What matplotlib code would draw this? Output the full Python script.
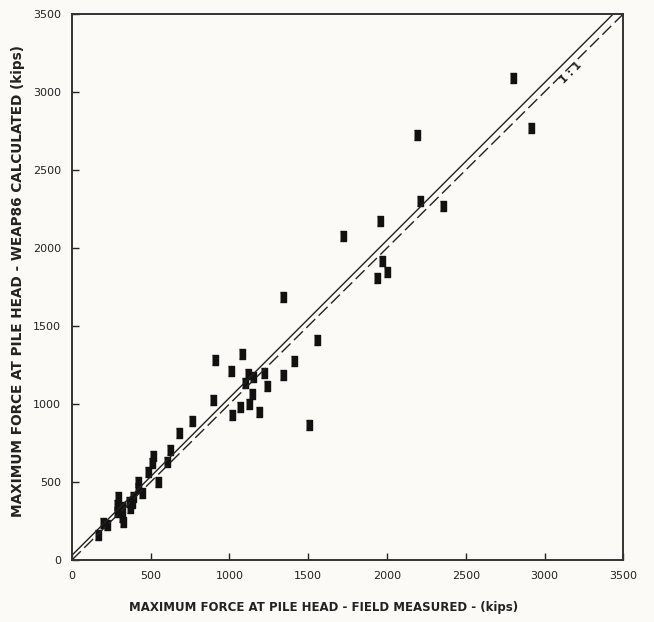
import matplotlib.pyplot as plt

# field measured vs WEAP86 calculated max force (kips)
measured = [2802, 2916, 2192, 2211, 2357, 1957, 1722, 1970, 2001, 1938,
            1341, 1557, 1410, 1341, 1506, 909, 1080, 1010, 1118, 1150,
            1099, 1220, 1239, 1144, 896, 1067, 1125, 1017, 1188, 762,
            680, 623, 515, 604, 508, 483, 546, 419, 419, 445,
            388, 362, 292, 286, 286, 318, 318, 324, 368, 381,
            222, 197, 165]
calculated = [3089, 2768, 2723, 2299, 2267, 2171, 2075, 1914, 1843, 1805,
              1683, 1413, 1278, 1188, 867, 1285, 1323, 1214, 1195, 1175,
              1137, 1201, 1118, 1066, 1028, 983, 1002, 931, 951, 893,
              816, 706, 668, 629, 623, 565, 501, 501, 462, 430,
              405, 373, 405, 353, 308, 340, 276, 244, 334, 366,
              225, 238, 161]

# best fit line and 1:1 line
fit_x = [0, 3436]
fit_y = [30, 3500]
one_x = [0, 3500]
one_y = [0, 3500]

ticks = [0, 500, 1000, 1500, 2000, 2500, 3000, 3500]

bg = '#fbfaf6'
ink = '#222222'

fig = plt.figure(figsize=(6.54, 6.22), dpi=100, facecolor=bg)
ax = fig.add_axes([0.110, 0.0997, 0.843, 0.8778], facecolor=bg)

rect = [(-0.33, -0.5), (0.33, -0.5), (0.33, 0.5), (-0.33, 0.5)]
ax.plot(measured, calculated, linestyle='none', marker=rect, markersize=6.5,
        color='#111111')
ax.plot(fit_x, fit_y, color=ink, linewidth=1.0)
ax.plot(one_x, one_y, color=ink, linewidth=1.0, dashes=(9, 3.5))

ax.text(3170, 3125, '1 : 1', rotation=45, fontsize=7.5, fontweight='bold',
        color=ink, ha='center', va='center')

ax.set_xlim(0, 3500)
ax.set_ylim(0, 3500)
ax.set_xticks(ticks)
ax.set_yticks(ticks)

for lab in ax.get_xticklabels() + ax.get_yticklabels():
    lab.set_fontsize(8)
    lab.set_color(ink)
ax.tick_params(direction='in', length=5, width=1, color=ink, pad=8)

for sp in ax.spines.values():
    sp.set_linewidth(1.4)
    sp.set_color('#333333')

ax.set_xlabel('MAXIMUM FORCE AT PILE HEAD - FIELD MEASURED - (kips)',
              fontsize=8.5, fontweight='bold', color=ink)
ax.xaxis.set_label_coords(0.456, -0.076)
ax.set_ylabel('MAXIMUM FORCE AT PILE HEAD - WEAP86 CALCULATED (kips)',
              fontsize=9.8, fontweight='bold', color=ink)
ax.yaxis.set_label_coords(-0.086, 0.51)

fig.savefig('out.png', dpi=100, facecolor=bg)
